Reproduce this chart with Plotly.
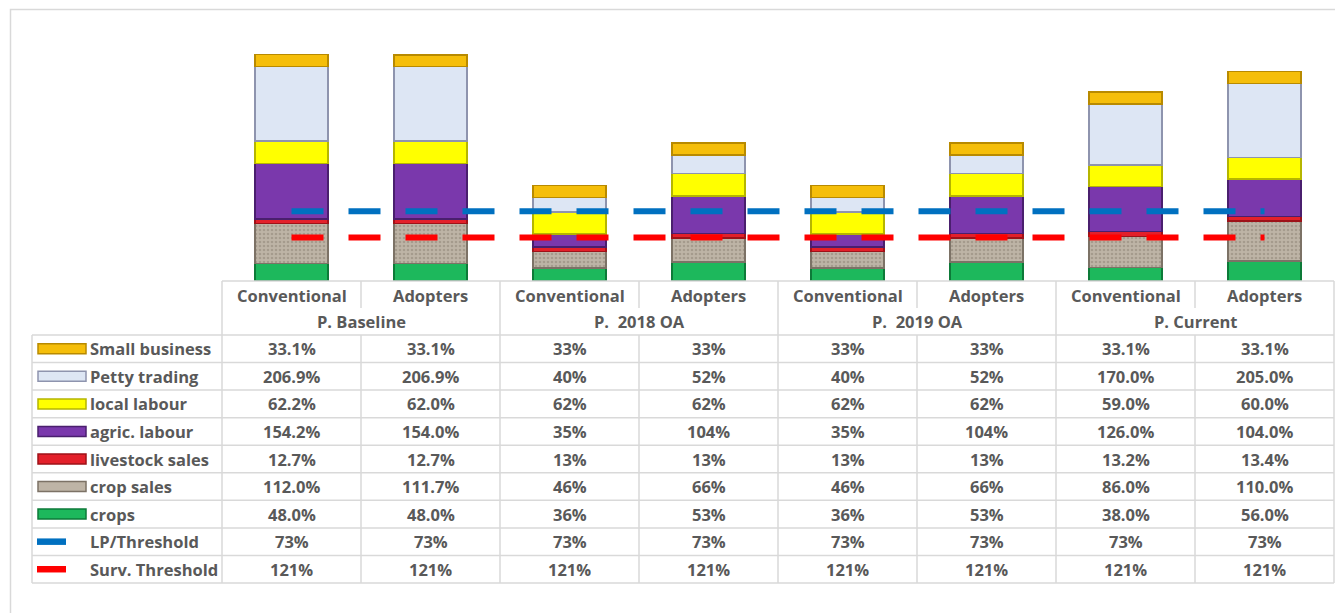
import plotly.graph_objects as go

# ---- data -------------------------------------------------------------
categories = ["Conventional", "Adopters"] * 4
groups = ["P. Baseline", "P.\u00a0 2018 OA", "P.\u00a0 2019 OA", "P. Current"]

series_names = ["Small business", "Petty trading", "local labour", "agric. labour",
                "livestock sales", "crop sales", "crops"]
small_business = [33.1, 33.1, 33, 33, 33, 33, 33.1, 33.1]
petty_trading = [206.9, 206.9, 40, 52, 40, 52, 170.0, 205.0]
local_labour = [62.2, 62.0, 62, 62, 62, 62, 59.0, 60.0]
agric_labour = [154.2, 154.0, 35, 104, 35, 104, 126.0, 104.0]
livestock_sales = [12.7, 12.7, 13, 13, 13, 13, 13.2, 13.4]
crop_sales = [112.0, 111.7, 46, 66, 46, 66, 86.0, 110.0]
crops = [48.0, 48.0, 36, 53, 36, 53, 38.0, 56.0]
lp_threshold = [73] * 8
surv_threshold = [121] * 8
column_decimals = [1, 1, 0, 0, 0, 0, 1, 1]

# ---- styling ------------------------------------------------------------
W, H = 1335, 613
GRID = "#D9D9D9"
TXT = "#595959"
FONT = "Open Sans"
FONT_SIZE = 16.5

fills = {
    "Small business": ("#F5BE0A", "#B88A00"),
    "Petty trading": ("#DDE6F4", "#8E94AE"),
    "local labour": ("#FFFF00", "#B5B500"),
    "agric. labour": ("#7A38AC", "#4A1F6E"),
    "livestock sales": ("#E3202A", "#9E1218"),
    "crop sales": ("#BEB4A6", "#7C7266"),
    "crops": ("#1DB85C", "#0D7A38"),
}
line_colors = {"LP/Threshold": "#0070C0", "Surv. Threshold": "#FF0000"}

# plot area in pixels
PX0, PX1 = 222, 1334
PY_BASE, PY_TOP = 281, 20
PX_PER_UNIT = 0.36
y_max = (PY_BASE - PY_TOP) / PX_PER_UNIT


def px(x):
    return x / W


def py(y):
    return 1 - y / H


fig = go.Figure()
x_idx = list(range(len(categories)))

stack_order = [
    ("crops", crops),
    ("crop sales", crop_sales),
    ("livestock sales", livestock_sales),
    ("agric. labour", agric_labour),
    ("local labour", local_labour),
    ("Petty trading", petty_trading),
    ("Small business", small_business),
]
for name, vals in stack_order:
    face, edge = fills[name]
    marker = dict(color=face, line=dict(color=edge, width=1.5))
    if name == "crop sales":
        marker["pattern"] = dict(shape=".", fgcolor="#8C8274", bgcolor=face,
                                 size=4, solidity=0.35)
    fig.add_trace(go.Bar(x=x_idx, y=vals, name=name, marker=marker,
                         showlegend=False, hoverinfo="y+name"))

# threshold lines (stacked, as in the source workbook)
for name, vals in [("Surv. Threshold", surv_threshold), ("LP/Threshold", lp_threshold)]:
    fig.add_trace(go.Scatter(x=x_idx, y=vals, name=name, mode="lines",
                             stackgroup="thr", fill="none",
                             line=dict(color=line_colors[name], width=6, dash="32px,25px"),
                             showlegend=False))

fig.update_layout(
    width=W, height=H, margin=dict(l=0, r=0, t=0, b=0),
    paper_bgcolor="white", plot_bgcolor="white",
    barmode="stack", bargap=0.475,
    xaxis=dict(domain=[px(PX0), px(PX1)], range=[-0.5, 7.5], visible=False),
    yaxis=dict(domain=[py(PY_BASE), py(PY_TOP)], range=[0, y_max], visible=False),
)

shapes = []
annotations = []


def hline(x0, x1, y, color=GRID, width=1.5):
    shapes.append(dict(type="line", xref="paper", yref="paper",
                       x0=px(x0), x1=px(x1), y0=py(y), y1=py(y),
                       line=dict(color=color, width=width)))


def vline(x, y0, y1, color=GRID, width=1.5):
    shapes.append(dict(type="line", xref="paper", yref="paper",
                       x0=px(x), x1=px(x), y0=py(y0), y1=py(y1),
                       line=dict(color=color, width=width)))


def text(x, y, s, anchor="center", size=FONT_SIZE):
    annotations.append(dict(xref="paper", yref="paper", x=px(x), y=py(y), text=s,
                            showarrow=False, xanchor=anchor, yanchor="middle",
                            font=dict(family=FONT, size=size, color=TXT, weight="bold")))


# outer chart frame
shapes.append(dict(type="rect", xref="paper", yref="paper",
                   x0=px(10.5), x1=px(1345), y0=py(620), y1=py(9.5),
                   line=dict(color=GRID, width=1.5)))

# data table grid
col_w = (PX1 - PX0) / len(categories)
TBL_LEFT = 32
HDR1, HDR2 = 308, 335
row_names = series_names + ["LP/Threshold", "Surv. Threshold"]
row_h = (583 - HDR2) / len(row_names)

hline(PX0, PX1, PY_BASE)
for i in range(len(row_names) + 1):
    hline(TBL_LEFT, PX1, HDR2 + i * row_h)
vline(TBL_LEFT, HDR2, 583)
for c in range(len(categories) + 1):
    xc = PX0 + c * col_w
    if c % 2 == 0:
        vline(xc, PY_BASE, 583)
    else:
        vline(xc, PY_BASE, HDR1)
        vline(xc, HDR2, 583)

# category headers
for c, cat in enumerate(categories):
    text(PX0 + (c + 0.5) * col_w, (PY_BASE + HDR1) / 2 + 0.5, cat)
for g, grp in enumerate(groups):
    text(PX0 + (2 * g + 1) * col_w, (HDR1 + HDR2) / 2, grp)

# table rows: legend key, name, values
row_values = [small_business, petty_trading, local_labour, agric_labour,
              livestock_sales, crop_sales, crops, lp_threshold, surv_threshold]
for r, (name, vals) in enumerate(zip(row_names, row_values)):
    yc = HDR2 + (r + 0.5) * row_h
    if name in fills:
        face, edge = fills[name]
        shapes.append(dict(type="rect", xref="paper", yref="paper",
                           x0=px(38), x1=px(86), y0=py(yc + 5), y1=py(yc - 5),
                           fillcolor=face, line=dict(color=edge, width=1.5)))
    else:
        shapes.append(dict(type="line", xref="paper", yref="paper",
                           x0=px(37), x1=px(66), y0=py(yc), y1=py(yc),
                           line=dict(color=line_colors[name], width=6.5)))
    text(88, yc, name, anchor="left")
    for c, v in enumerate(vals):
        dec = column_decimals[c] if name in fills else 0
        text(PX0 + (c + 0.5) * col_w, yc, f"{v:.{dec}f}%")

fig.update_layout(shapes=shapes, annotations=annotations)
fig.write_html("out.html")
